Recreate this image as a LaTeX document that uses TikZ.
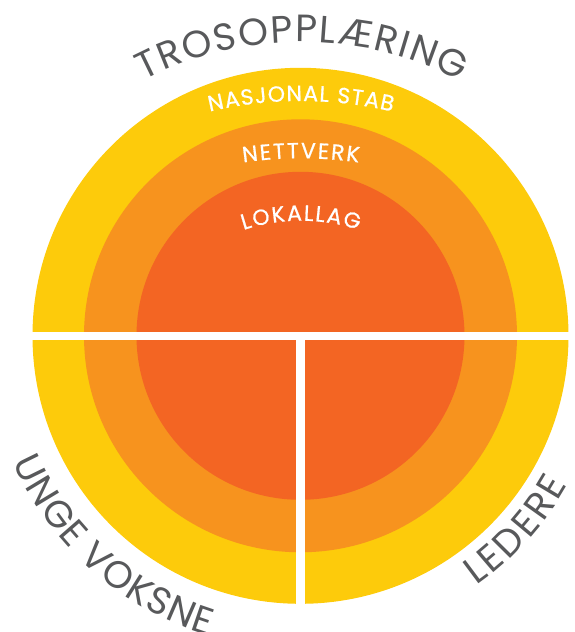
\documentclass[tikz,border=0pt]{standalone}
\usepackage{fontspec}
\setmainfont{Poppins}
\newfontfamily\ringfont{Poppins}[FakeBold=0.7]
\usetikzlibrary{decorations.text}
\definecolor{ringY}{HTML}{FDCB0B}
\definecolor{ringO}{HTML}{F7931E}
\definecolor{ringR}{HTML}{F36523}
\definecolor{txtgray}{HTML}{58595B}
\tikzset{
  bigtext/.style={decorate, decoration={text along path, text align={fit to path}, text color=txtgray, text={|\fontsize{38}{44}\selectfont|#1}}},
  ringtext/.style={decorate, decoration={text along path, text align={fit to path}, text color=white, text={|\ringfont\fontsize{22}{26}\selectfont|#1}}},
}
\begin{document}
\begin{tikzpicture}
\useasboundingbox (-300.5pt,-296.2pt) rectangle (273.5pt,335.8pt);
% rings
\fill[ringY] (0,0) circle[radius=268pt];
\fill[ringO] (0,0) circle[radius=216.5pt];
\fill[ringR] (0,0) circle[radius=164pt];
% white separators
\fill[white] (-285pt,-4.2pt) rectangle (285pt,4.1pt);
\fill[white] (-4.5pt,0pt) rectangle (4.5pt,-285pt);
% curved labels
\path[bigtext=TROSOPPLÆRING] ([shift={(1.5pt,-49.2pt)}]117.5:343pt) arc[start angle=117.5, end angle=62.5, radius=343pt];
\path[ringtext=NASJONAL STAB] ([shift={(0.5pt,-165.2pt)}]103.2:400pt) arc[start angle=103.2, end angle=76.8, radius=400pt];
\path[ringtext=NETTVERK] ([shift={(0.5pt,-222.5pt)}]98.3:400pt) arc[start angle=98.3, end angle=81.7, radius=400pt];
\path[ringtext=LOKALLAG] ([shift={(0.5pt,-66.9pt)}]108.4:182pt) arc[start angle=108.4, end angle=71.6, radius=182pt];
\path[bigtext=UNGE VOKSNE] (203.8:314pt) arc[start angle=203.8, end angle=252.9, radius=314pt];
\path[bigtext=LEDERE] (-54.8:306pt) arc[start angle=-54.8, end angle=-29.2, radius=306pt];
\end{tikzpicture}
\end{document}
